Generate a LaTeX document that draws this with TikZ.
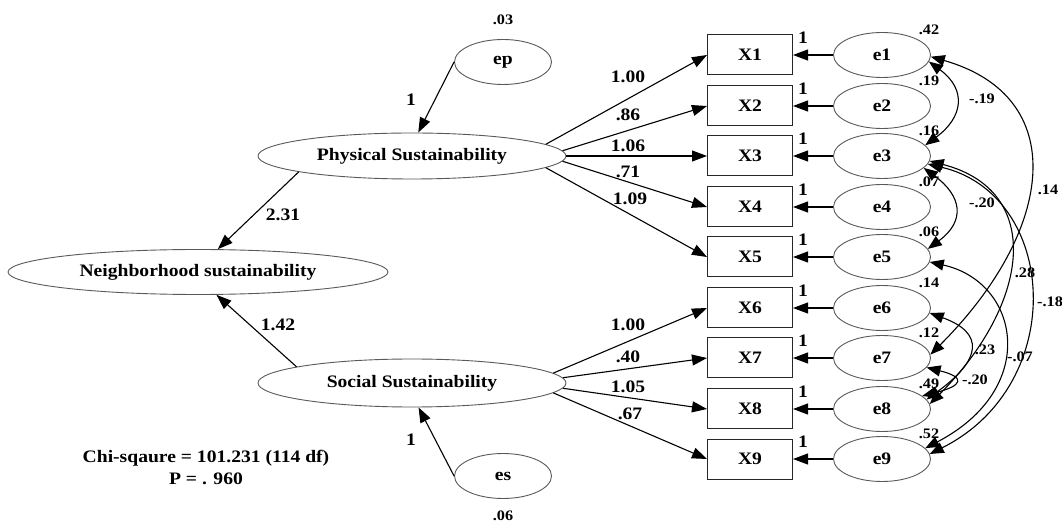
\documentclass[tikz,border=0pt]{standalone}
\usepackage{fontspec}
\setmainfont[FakeStretch=1.12]{Liberation Serif}
\usetikzlibrary{arrows.meta,shapes.geometric}
\newcommand\bigfnt{\fontsize{17.5}{20}\selectfont\bfseries}
\newcommand\smallfnt{\fontsize{14.5}{17}\selectfont\bfseries}
\tikzset{
  lat/.style={ellipse,draw=black!65,line width=0.9pt,inner sep=0pt,font=\bigfnt},
  err/.style={ellipse,draw=black!65,line width=0.9pt,inner sep=0pt,minimum width=97pt,minimum height=45pt,font=\bigfnt},
  obs/.style={rectangle,draw=black!85,line width=1pt,inner sep=0pt,minimum width=85pt,minimum height=40pt,font=\bigfnt},
  arr/.style={-{Triangle[length=15pt,width=11pt]},line width=1.1pt,black},
  cov/.style={{Triangle[length=14pt,width=11pt]}-{Triangle[length=14pt,width=11pt]},line width=1.1pt,black},
  lab/.style={font=\bigfnt,inner sep=0pt},
  sml/.style={font=\smallfnt,inner sep=0pt}
}
\begin{document}
\begin{tikzpicture}[x=1pt,y=1pt]
\useasboundingbox (0,0) rectangle (1062,522);
% latent variables
\node[lat,minimum width=308pt,minimum height=46pt] (PS) at (412,366) {Physical Sustainability};
\node[lat,minimum width=380pt,minimum height=45pt] (NS) at (198,250) {Neighborhood sustainability};
\node[lat,minimum width=308pt,minimum height=48pt] (SS) at (412,139) {Social Sustainability};
\node[err] (ep) at (503,460) {ep};
\node[err] (es) at (503,46) {es};
\node[sml] (vep) at (503,502) {.03};
\node[sml] (ves) at (503,6) {.06};
\draw[arr] (ep.west) -- (PS.75);
\draw[arr] (es.west) -- (SS.-75);
\node[lab] (l1) at (411,422) {1};
\node[lab] (l2) at (411,82) {1};
\draw[arr] (PS.188) -- (NS.49);
\draw[arr] (SS.172) -- (NS.-51);
\node[lab] (l231) at (283,307) {2.31};
\node[lab] (l142) at (278,197) {1.42};
% observed + errors
\foreach \i/\y/\v in {1/467/.42,2/416/.19,3/366/.16,4/315/.07,5/265/.06,6/214/.14,7/164/.12,8/113/.49,9/63/.52}{
  \node[obs] (X\i) at (750,\y) {X\i};
  \node[err] (e\i) at (882,\y) {e\i};
  \draw[arr] (e\i) -- (X\i);
  \node[lab] (one\i) at (803,\y+17) {1};
  \node[sml] (v\i) at (929,\y+25) {\v};
}
% loadings
\draw[arr] (PS.5) -- (X1.west);
\draw[arr] (PS.2.5) -- (X2.west);
\draw[arr] (PS.0) -- (X3.west);
\draw[arr] (PS.-2.5) -- (X4.west);
\draw[arr] (PS.-5) -- (X5.west);
\draw[arr] (SS.4) -- (X6.west);
\draw[arr] (SS.2) -- (X7.west);
\draw[arr] (SS.-2) -- (X8.west);
\draw[arr] (SS.-4) -- (X9.west);
\node[lab] at (628,445) {1.00};
\node[lab] at (628,407) {.86};
\node[lab] at (628,376) {1.06};
\node[lab] at (628,350) {.71};
\node[lab] at (630,323) {1.09};
\node[lab] at (628,197) {1.00};
\node[lab] at (628,165) {.40};
\node[lab] at (628,135) {1.05};
\node[lab] at (630,108) {.67};
% covariances
\draw[cov] (e1.-8) .. controls +(38,-28) and +(38,28) .. (e3.14);
\draw[cov] (e3.-16) .. controls +(38,-28) and +(38,28) .. (e5.10);
\draw[cov] (e1.-2) .. controls +(140,-40) and +(125,125) .. (e7.4);
\draw[cov] (e3.-6) .. controls +(115,-30) and +(100,100) .. (e8.6);
\draw[cov] (e3.-10) .. controls +(130,-30) and +(140,70) .. (e9.6);
\draw[cov] (e5.-6) .. controls +(90,-20) and +(115,60) .. (e9.14);
\draw[cov] (e6.-6) .. controls +(55,-20) and +(55,40) .. (e8.12);
\draw[cov] (e7.-12) .. controls +(40,-10) and +(40,10) .. (e8.18);
\node[sml] at (982,423) {-.19};
\node[sml] at (982,319) {-.20};
\node[sml] at (1048,332) {.14};
\node[sml] at (1025,249) {.28};
\node[sml] at (1050,220) {-.18};
\node[sml] at (1020,165) {-.07};
\node[sml] at (985,172) {.23};
\node[sml] at (975,142) {-.20};
% fit
\node[lab,align=center] (fit) at (206,55) {Chi-sqaure = 101.231 (114 df)\\[2pt] P = . 960};
\end{tikzpicture}
\end{document}
